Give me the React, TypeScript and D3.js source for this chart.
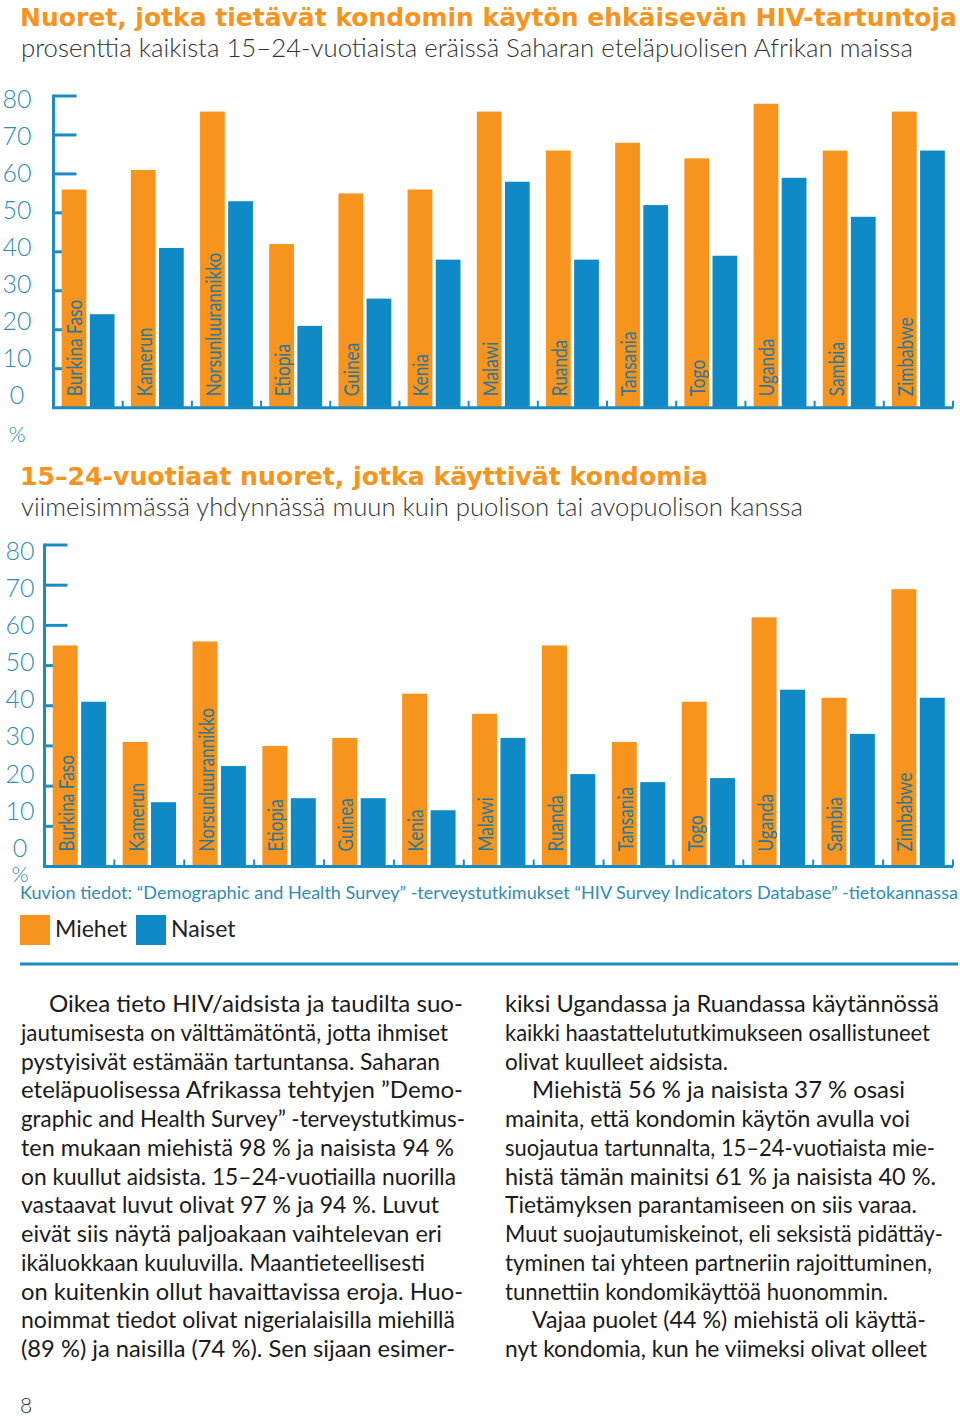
import React from 'react';
import * as d3 from 'd3';

// Countries shown in both panels
const countries = [
  'Burkina Faso', 'Kamerun', 'Norsunluurannikko', 'Etiopia', 'Guinea', 'Kenia', 'Malawi',
  'Ruanda', 'Tansania', 'Togo', 'Uganda', 'Sambia', 'Zimbabwe',
];
const series = ['Miehet', 'Naiset'];

// Panel 1: know that condoms prevent HIV (%)
const knowMen = [56, 61, 76, 42, 55, 56, 76, 66, 68, 64, 78, 66, 76];
const knowWomen = [24, 41, 53, 21, 28, 38, 58, 38, 52, 39, 59, 49, 66];

// Panel 2: used a condom at last higher-risk sex (%)
const condomMen = [55, 31, 56, 30, 32, 43, 38, 55, 31, 41, 62, 42, 69];
const condomWomen = [41, 16, 25, 17, 17, 14, 32, 23, 21, 22, 44, 33, 42];

const tickValues = [0, 10, 20, 30, 40, 50, 60, 70, 80];

const title1 = 'Nuoret, jotka tietävät kondomin käytön ehkäisevän HIV-tartuntoja';
const subtitle1 = 'prosenttia kaikista 15–24-vuotiaista eräissä Saharan eteläpuolisen Afrikan maissa';
const title2 = '15–24-vuotiaat nuoret, jotka käyttivät kondomia';
const subtitle2 = 'viimeisimmässä yhdynnässä muun kuin puolison tai avopuolison kanssa';
const source = 'Kuvion tiedot: “Demographic and Health Survey” -terveystutkimukset “HIV Survey Indicators Database” -tietokannassa';

const leftText = [
  'Oikea tieto HIV/aidsista ja taudilta suo-',
  'jautumisesta on välttämätöntä, jotta ihmiset',
  'pystyisivät estämään tartuntansa. Saharan',
  'eteläpuolisessa Afrikassa tehtyjen ”Demo-',
  'graphic and Health Survey” -terveystutkimus-',
  'ten mukaan miehistä 98 % ja naisista 94 %',
  'on kuullut aidsista. 15–24-vuotiailla nuorilla',
  'vastaavat luvut olivat 97 % ja 94 %. Luvut',
  'eivät siis näytä paljoakaan vaihtelevan eri',
  'ikäluokkaan kuuluvilla. Maantieteellisesti',
  'on kuitenkin ollut havaittavissa eroja. Huo-',
  'noimmat tiedot olivat nigerialaisilla miehillä',
  '(89 %) ja naisilla (74 %). Sen sijaan esimer-',
];
const rightText = [
  'kiksi Ugandassa ja Ruandassa käytännössä',
  'kaikki haastattelututkimukseen osallistuneet',
  'olivat kuulleet aidsista.',
  'Miehistä 56 % ja naisista 37 % osasi',
  'mainita, että kondomin käytön avulla voi',
  'suojautua tartunnalta, 15–24-vuotiaista mie-',
  'histä tämän mainitsi 61 % ja naisista 40 %.',
  'Tietämyksen parantamiseen on siis varaa.',
  'Muut suojautumiskeinot, eli seksistä pidättäy-',
  'tyminen tai yhteen partneriin rajoittuminen,',
  'tunnettiin kondomikäyttöä huonommin.',
  'Vajaa puolet (44 %) miehistä oli käyttä-',
  'nyt kondomia, kun he viimeksi olivat olleet',
];
// line layout: [start x, end x]
const leftLayout = [
  [49, 463], [21, 448], [21, 440], [21, 463], [21, 465], [21, 454], [21, 456],
  [21, 439], [21, 442], [21, 425], [21, 463], [21, 455], [21, 455],
];
const rightLayout = [
  [505, 939], [505, 930], [505, 728], [532, 905], [505, 910], [505, 935], [505, 936],
  [505, 917], [505, 943], [505, 932], [505, 888], [532, 926], [505, 927],
];

const ORANGE = '#f7941d';
const BLUE = '#0f8ac6';
const AXIS = '#1a8cc4';
const LABEL = '#2e8cb6';
const COUNTRY = '#2a7899';
const FONT = "Lato, 'Open Sans', sans-serif";

interface PanelProps {
  men: number[];
  women: number[];
  axisX: number;
  right: number;
  base: number;
  top: number;
  labelTop: number;
  labelZero: number;
  labelX: number;
  pctY: number;
  nameOffset: number;
}

const BarPanel: React.FC<PanelProps> = ({
  men, women, axisX, right, base, top, labelTop, labelZero, labelX, pctY, nameOffset,
}) => {
  const x0 = d3.scaleBand<string>().domain(countries).range([axisX, right]);
  const x1 = d3.scaleBand<string>().domain(series).range([0, x0.bandwidth()])
    .paddingInner(0.12).paddingOuter(0.29);
  const y = d3.scaleLinear().domain([0, 80]).range([base, top]);
  // the printed tick numbers sit on a slightly tighter spacing than the ticks
  const yLabel = d3.scaleLinear().domain([0, 80]).range([labelZero, labelTop]);
  const values = [men, women];
  const colors = [ORANGE, BLUE];

  return (
    <g>
      {/* value ticks sit behind the bars */}
      {tickValues.filter(v => v > 0).map(v => (
        <line key={v} x1={axisX} x2={axisX + 23} y1={y(v)} y2={y(v)} stroke={AXIS} strokeWidth={3} />
      ))}

      {countries.map((c, i) => (
        <g key={c} transform={`translate(${x0(c)},0)`}>
          {series.map((s, k) => (
            <rect
              key={s}
              x={x1(s)}
              y={y(values[k][i])}
              width={x1.bandwidth()}
              height={base - y(values[k][i])}
              fill={colors[k]}
            />
          ))}
          <text
            transform={`translate(${(x1('Miehet') || 0) + x1.bandwidth() - 4},${base - nameOffset}) rotate(-90) scale(0.84,1)`}
            fontFamily={FONT}
            fontSize={20.5}
            fill={COUNTRY}
          >
            {c}
          </text>
        </g>
      ))}

      {/* axes */}
      <line x1={axisX} x2={axisX} y1={y(80) - 1.5} y2={base} stroke={AXIS} strokeWidth={3} />
      <line x1={axisX - 1.5} x2={right} y1={base} y2={base} stroke={AXIS} strokeWidth={3} />
      {countries.slice(1).map(c => (
        <line key={c} x1={x0(c)} x2={x0(c)} y1={base} y2={base - 7} stroke={AXIS} strokeWidth={2} />
      ))}
      <line x1={right} x2={right} y1={base} y2={base - 7} stroke={AXIS} strokeWidth={2} />

      {tickValues.map(v => (
        <text
          key={v}
          x={labelX}
          y={yLabel(v)}
          dy="0.36em"
          textAnchor="middle"
          fontFamily={FONT}
          fontWeight={300}
          fontSize={25}
          fill={LABEL}
        >
          {v}
        </text>
      ))}
      <text x={labelX} y={pctY} dy="0.36em" textAnchor="middle" fontFamily={FONT} fontWeight={300} fontSize={22} fill={LABEL}>
        %
      </text>
    </g>
  );
};

const App: React.FC = () => {
  const lineH = 28.75;
  return (
    <svg
      width={960}
      height={1416}
      viewBox="0 0 960 1416"
      style={{ position: 'absolute', left: 0, top: 0, background: '#fff' }}
    >
      <rect width={960} height={1416} fill="#fff" />

      {/* Titles */}
      <text x={20} y={26} fontFamily="'DejaVu Sans', sans-serif" fontWeight={700} fontSize={25}
        fill={ORANGE} textLength={937} lengthAdjust="spacingAndGlyphs">{title1}</text>
      <text x={21} y={57} fontFamily={FONT} fontWeight={300} fontSize={25}
        fill="#333" textLength={892} lengthAdjust="spacingAndGlyphs">{subtitle1}</text>

      <BarPanel
        men={knowMen} women={knowWomen}
        axisX={53.5} right={953} base={407.7} top={96}
        labelTop={98.5} labelZero={395} labelX={17} pctY={434}
        nameOffset={11.5}
      />

      <text x={20} y={485} fontFamily="'DejaVu Sans', sans-serif" fontWeight={700} fontSize={25}
        fill={ORANGE} textLength={688} lengthAdjust="spacingAndGlyphs">{title2}</text>
      <text x={21} y={516} fontFamily={FONT} fontWeight={300} fontSize={25}
        fill="#333" textLength={782} lengthAdjust="spacingAndGlyphs">{subtitle2}</text>

      <BarPanel
        men={condomMen} women={condomWomen}
        axisX={44.5} right={953} base={866.5} top={545}
        labelTop={550.5} labelZero={848} labelX={20} pctY={874}
        nameOffset={15}
      />

      {/* Source */}
      <text x={20} y={899} fontFamily={FONT} fontSize={17.5} fill={LABEL}
        textLength={938} lengthAdjust="spacingAndGlyphs">{source}</text>

      {/* Legend */}
      {series.map((s, i) => (
        <g key={s} transform={`translate(${20 + i * 116},915)`}>
          <rect width={30} height={30} fill={i === 0 ? ORANGE : BLUE} />
          <text x={35} y={22} fontFamily={FONT} fontSize={23} fill="#222">{s}</text>
        </g>
      ))}

      <line x1={20} x2={958} y1={964} y2={964} stroke={AXIS} strokeWidth={3} />

      {/* Body text */}
      {leftText.map((t, i) => (
        <text key={`l${i}`} x={leftLayout[i][0]} y={1012 + i * lineH} fontFamily={FONT} fontSize={22.5}
          fill="#1a1a1a" textLength={leftLayout[i][1] - leftLayout[i][0]} lengthAdjust="spacingAndGlyphs">{t}</text>
      ))}
      {rightText.map((t, i) => (
        <text key={`r${i}`} x={rightLayout[i][0]} y={1012 + i * lineH} fontFamily={FONT} fontSize={22.5}
          fill="#1a1a1a" textLength={rightLayout[i][1] - rightLayout[i][0]} lengthAdjust="spacingAndGlyphs">{t}</text>
      ))}

      <text x={20} y={1413} fontFamily={FONT} fontWeight={300} fontSize={21} fill="#333">8</text>
    </svg>
  );
};

export default App;
